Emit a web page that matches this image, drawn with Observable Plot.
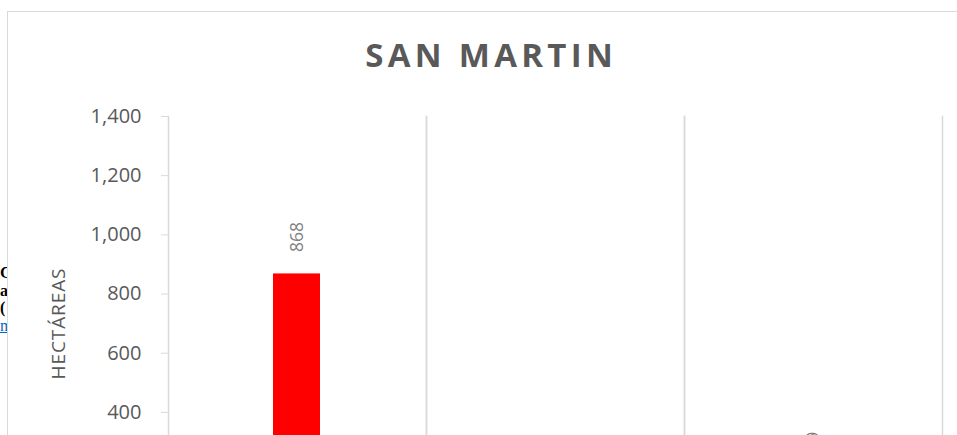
<!DOCTYPE html>
<html>
<head>
<meta charset="utf-8">
<script src="https://cdn.jsdelivr.net/npm/d3@7"></script>
<script src="https://cdn.jsdelivr.net/npm/@observablehq/plot@0.6"></script>
<style>
  html, body { margin: 0; padding: 0; background: #fff; overflow: hidden; }
  #page { position: relative; width: 957px; height: 435px; overflow: hidden; background: #fff; }
  #stray { position: absolute; left: 0; top: 264px; width: 7px; overflow: hidden;
           font-family: "Liberation Serif", serif; font-size: 16px; line-height: 17.5px; color: #000; white-space: nowrap; }
  #stray a { color: #0563c1; text-decoration: underline; font-weight: normal; }
  #box { position: absolute; left: 7px; top: 11px; width: 980px; height: 460px;
         border-left: 1.5px solid #d9d9d9; border-top: 1.5px solid #d9d9d9; background: #fff; }
  #plot { position: absolute; left: 0; top: 0; }
  #plot svg { overflow: hidden; }
  #title { position: absolute; left: 0; top: 39px; width: 978px; text-align: center;
           font-family: "Open Sans", sans-serif; font-weight: 700; font-size: 33px; line-height: 32px;
           letter-spacing: 4.3px; padding-left: 4.3px; box-sizing: border-box; color: #595959; }
  #ylabel { position: absolute; left: 0; top: 0; font-family: "Open Sans", sans-serif; font-size: 19px;
            letter-spacing: 0.9px; color: #595959; white-space: nowrap; line-height: 19px;
            transform-origin: 0 0; }
</style>
</head>
<body>
<div id="page">
  <div id="stray"><b>C</b><br><b>a</b><br><b>(</b><br><a>m</a></div>
  <div id="box"></div>
  <div id="plot"></div>
  <div id="title">SAN MARTIN</div>
  <div id="ylabel">HECTÁREAS</div>
</div>
<script>
// Data (categories are below the visible crop)
const categories = ["Categoría 1", "Categoría 2", "Categoría 3"];
const hectareas = [868, 0, 159];
const yTicks = [400, 600, 800, 1000, 1200, 1400];

const data = categories.map((c, i) => ({cat: c, val: hectareas[i]}));

const chart = Plot.plot({
  width: 957,
  height: 435,
  marginTop: 116,
  marginBottom: 0,
  marginLeft: 167,
  marginRight: 15,
  style: {fontFamily: "Open Sans, sans-serif", background: "transparent"},
  fx: {domain: categories, padding: 0, axis: null},
  y: {domain: [322, 1400], axis: null},
  marks: [
    Plot.frame({anchor: "left", stroke: "#d9d9d9", strokeWidth: 1.5}),
    Plot.frame({anchor: "right", stroke: "#d9d9d9", strokeWidth: 1.5}),
    Plot.axisY({ticks: yTicks, tickFormat: d3.format(","), tickSize: 7, tickPadding: 20,
                stroke: "#d9d9d9", fill: "#595959", fontSize: 20, label: null}),
    Plot.barY(data, {fx: "cat", y: "val", fill: "#ff0000", insetLeft: 105, insetRight: 106, clip: true}),
    Plot.text(data.filter(d => d.val > 0), {fx: "cat", y: "val", text: d => String(d.val), rotate: -90,
      textAnchor: "start", dy: -22, fill: "#7f7f7f", fontSize: 17.5})
  ]
});
document.getElementById("plot").appendChild(chart);

// Y axis title, rotated, centered on the full value axis
const yl = document.getElementById("ylabel");
const w = yl.getBoundingClientRect().width;
yl.style.transform = `translate(49px, ${323.5 + w / 2}px) rotate(-90deg)`;
</script>
</body>
</html>
